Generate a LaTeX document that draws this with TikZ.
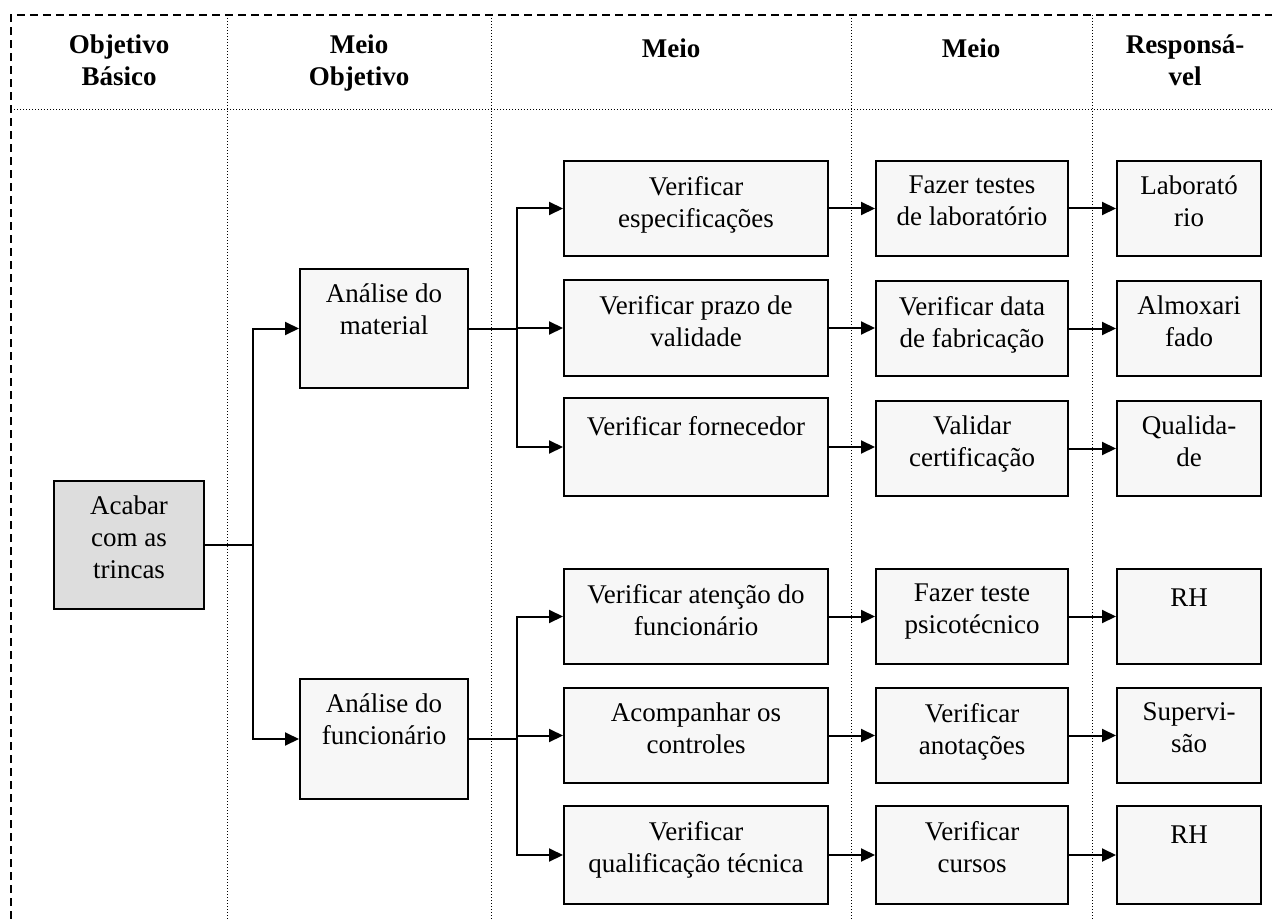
\documentclass[tikz,border=0pt]{standalone}
\usepackage{fontspec}
\setmainfont{Liberation Serif}
\usetikzlibrary{arrows.meta,calc}
\definecolor{boxfill}{HTML}{F7F7F7}
\definecolor{acabfill}{HTML}{DDDDDD}
\newcommand\mybox[7]{%
  \node[box, fill=#7, minimum width=#4*0.5pt, minimum height=#5*0.5pt] (#1) at (#2,#3) {};
  \node[txt] (#1t) at ($(#1.north)+(0,15.6)$) {#6};}
\begin{document}
\begin{tikzpicture}[x=0.5pt,y=-0.5pt,
  box/.style={draw=black, line width=1pt, inner sep=0pt, anchor=north west},
  txt/.style={font=\fontsize{13.5}{16}\selectfont, align=center, anchor=north, inner sep=0pt,
    execute at begin node={\rule{0pt}{11.2pt}}},
  hdr/.style={txt, font=\fontsize{13.5}{16}\selectfont\bfseries},
  arr/.style={line width=1pt, -{Triangle[length=7pt,width=6.5pt]}},
  ln/.style={line width=1pt},
  sep/.style={line width=0.5pt, dash pattern=on 0.5pt off 1pt},
  frame/.style={line width=1pt, dash pattern=on 4pt off 2.5pt}]
\useasboundingbox (0,0) rectangle (1272,919);
% frame and separators
\coordinate (tl) at (11,15);
\coordinate (tr) at (1272,15);
\coordinate (bl) at (11,919);
\draw[frame] (bl) -- (tl) -- (tr);
\coordinate (h1) at (11,110);
\coordinate (h2) at (1272,110);
\draw[sep] (h1) -- (h2);
\foreach \xx/\nm in {227/s1,491/s2,851/s3,1092/s4}{
  \coordinate (\nm a) at (\xx,15);
  \coordinate (\nm b) at (\xx,919);
  \draw[sep] (\nm a) -- (\nm b);
}
% headers
\node[hdr] (hd1) at (119,34.6) {Objetivo\\Básico};
\node[hdr] (hd2) at (359,34.6) {Meio\\Objetivo};
\node[hdr] (hd3) at (671,34.6) {Meio};
\node[hdr] (hd4) at (971,34.6) {Meio};
\node[hdr] (hd5) at (1185,34.6) {Responsá-\\vel};
% boxes
\mybox{acabar}{53}{480}{150}{128}{Acabar\\com as\\trincas}{acabfill}
\mybox{mat}{299}{268}{168}{119}{Análise do\\material}{boxfill}
\mybox{func}{299}{678}{168}{120}{Análise do\\funcionário}{boxfill}
\mybox{b1}{563}{160}{264}{95}{Verificar\\especificações}{boxfill}
\mybox{b2}{563}{279}{264}{96}{Verificar prazo de\\validade}{boxfill}
\mybox{b3}{563}{397}{264}{98}{Verificar fornecedor}{boxfill}
\mybox{c1}{563}{568}{264}{95}{Verificar atenção do\\funcionário}{boxfill}
\mybox{c2}{563}{687}{264}{95}{Acompanhar os\\controles}{boxfill}
\mybox{c3}{563}{805}{264}{98}{Verificar\\qualificação técnica}{boxfill}
\mybox{d1}{875}{160}{192}{95}{Fazer testes\\de laboratório}{boxfill}
\mybox{d2}{875}{280}{192}{95}{Verificar data\\de fabricação}{boxfill}
\mybox{d3}{875}{400}{192}{95}{Validar\\certificação}{boxfill}
\mybox{f1}{875}{568}{192}{95}{Fazer teste\\psicotécnico}{boxfill}
\mybox{f2}{875}{687}{192}{95}{Verificar\\anotações}{boxfill}
\mybox{f3}{875}{805}{192}{98}{Verificar\\cursos}{boxfill}
\mybox{e1}{1116}{160}{144}{95}{Laborató\\rio}{boxfill}
\mybox{e2}{1116}{280}{144}{95}{Almoxari\\fado}{boxfill}
\mybox{e3}{1116}{400}{144}{95}{Qualida-\\de}{boxfill}
\mybox{g1}{1116}{568}{144}{95}{RH}{boxfill}
\mybox{g2}{1116}{687}{144}{95}{Supervi-\\são}{boxfill}
\mybox{g3}{1116}{805}{144}{98}{RH}{boxfill}
% connectors
\coordinate (j1) at ($(acabar.east)+(48,0)$);
\draw[ln] (acabar.east) -- (j1);
\draw[arr] (j1) |- (mat.west);
\draw[arr] (j1) |- (func.west);
\coordinate (j2) at ($(mat.east)+(48,0)$);
\draw[ln] (mat.east) -- (j2);
\draw[arr] (j2) |- (b1.west);
\draw[arr] (j2) |- (b2.west);
\draw[arr] (j2) |- (b3.west);
\coordinate (j3) at ($(func.east)+(48,0)$);
\draw[ln] (func.east) -- (j3);
\draw[arr] (j3) |- (c1.west);
\draw[arr] (j3) |- (c2.west);
\draw[arr] (j3) |- (c3.west);
\foreach \a/\b in {b1/d1,b2/d2,b3/d3,c1/f1,c2/f2,c3/f3,d1/e1,d2/e2,d3/e3,f1/g1,f2/g2,f3/g3}{
  \draw[arr] (\a.east) -- (\a.east -| \b.west);
}
\end{tikzpicture}
\end{document}
